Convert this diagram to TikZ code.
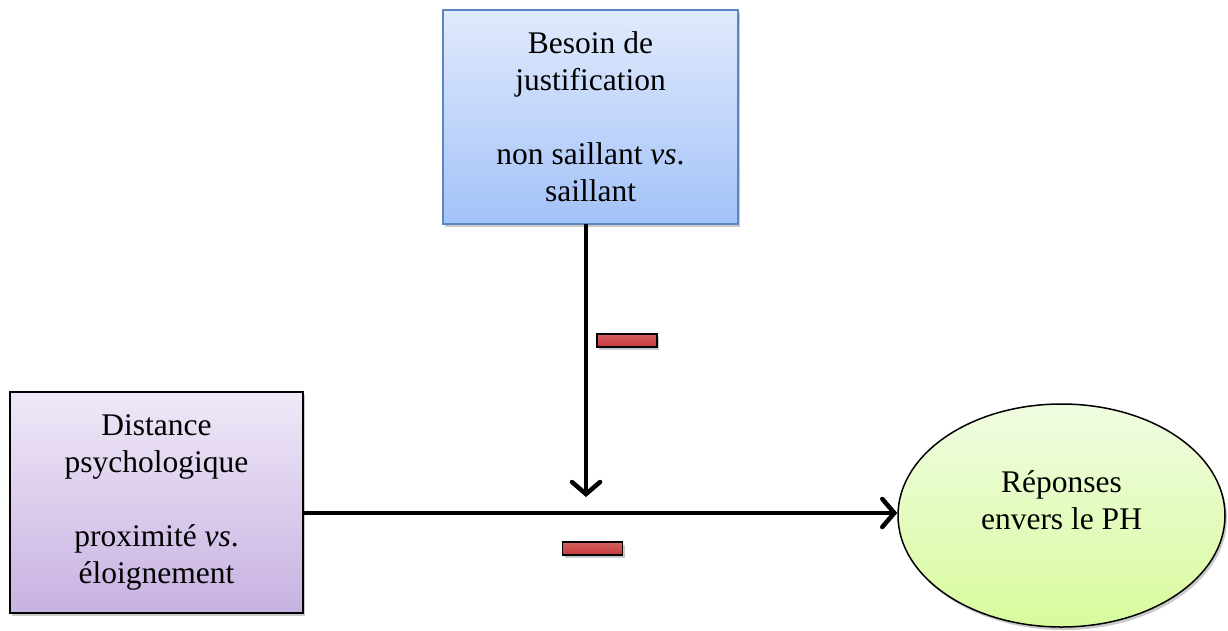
\documentclass[tikz,border=0pt]{standalone}
\usepackage{fontspec}
\setmainfont{Liberation Serif}
\usetikzlibrary{arrows.meta,shapes.geometric,shadows}
\definecolor{bluetop}{HTML}{E0EAFC}
\definecolor{bluebot}{HTML}{A3C2F8}
\definecolor{blueedge}{HTML}{5B86C0}
\definecolor{purtop}{HTML}{F0E8F8}
\definecolor{purbot}{HTML}{C7B2E1}
\definecolor{grtop}{HTML}{F0FCE2}
\definecolor{grbot}{HTML}{D8FB9C}
\definecolor{minusred}{HTML}{C8383A}
\tikzset{
  txt/.style={font=\fontsize{31.5}{37}\selectfont, align=center, text=black},
  shad/.style={drop shadow={shadow xshift=2pt, shadow yshift=-3pt, opacity=0.35, fill=black!60}},
  bluebox/.style={shad, rectangle, draw=blueedge, line width=1.5pt, top color=bluetop, bottom color=bluebot,
    minimum width=295pt, minimum height=214pt, inner sep=0pt, txt},
  purbox/.style={shad, rectangle, draw=black, line width=1.5pt, top color=purtop, bottom color=purbot,
    minimum width=293pt, minimum height=221pt, inner sep=0pt, txt},
  grell/.style={shad, ellipse, draw=black, line width=1.5pt, top color=grtop, bottom color=grbot,
    minimum width=327pt, minimum height=223pt, inner sep=0pt},
  minusbox/.style={shad, rectangle, draw=black, line width=1.5pt, top color=minusred!80, bottom color=minusred,
    minimum width=60pt, minimum height=13pt, inner sep=0pt},
  conn/.style={line width=4.5pt, -{Straight Barb[length=12pt, width=28pt, line width=4.5pt, line cap=round]}}
}
\begin{document}
\begin{tikzpicture}[x=1pt,y=-1pt]
\useasboundingbox (0,0) rectangle (1228,630);
\node[bluebox] (jb) at (590.5,117) {Besoin de\\justification\\[37pt]non saillant \textit{vs}.\\saillant};
\node[purbox] (dp) at (156.5,502.5) {Distance\\psychologique\\[37pt]proximit\'e \textit{vs}.\\\'eloignement};
\node[grell] (rep) at (1061.5,515.5) {};
\node[txt] (reptxt) at (1061.5,500) {R\'eponses\\envers le PH};
\coordinate (hit) at (586,497);
\coordinate (vs) at (586,224);
\draw[conn] (vs) -- (hit);
\draw[conn] (dp.east |- 0,513) -- (rep.west |- 0,513);
\node[minusbox] (m1) at (627,340.5) {};
\node[minusbox] (m2) at (592.5,548.5) {};
\end{tikzpicture}
\end{document}
